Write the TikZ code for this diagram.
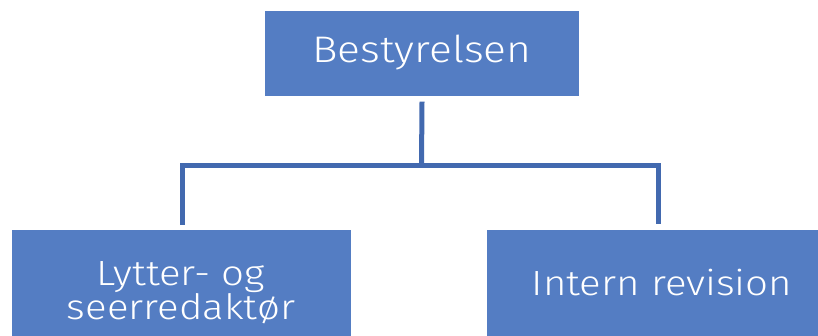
\documentclass[tikz,border=0pt]{standalone}
\usepackage{fontspec}
\setmainfont[FakeStretch=1.15]{Fira Sans Light}
\definecolor{boxblue}{RGB}{84,125,195}
\definecolor{lineblue}{RGB}{66,105,175}
\begin{document}
\begin{tikzpicture}[x=1pt,y=-1pt,
  box/.style={fill=boxblue, inner sep=0pt, text=white, align=center},
  conn/.style={draw=lineblue, line width=5pt}]
\useasboundingbox (0,0) rectangle (818,335);
\begin{scope}
\clip (0,0) rectangle (818,335);
\node[box, minimum width=314pt, minimum height=85pt, font=\fontsize{37}{40}\selectfont] (top) at (422,53) {Bestyrelsen};
\node[box, minimum width=339pt, minimum height=126pt, font=\fontsize{35}{33}\selectfont] (left) at (181,293) {Lytter- og\\seerredaktør};
\node[box, minimum width=350pt, minimum height=106pt, font=\fontsize{35}{40}\selectfont] (right) at (662,283) {Intern revision};
\end{scope}
\coordinate (j) at (421.5,165);
\draw[conn] ([yshift=-6pt]top.south) -- (j);
\draw[conn] ([xshift=1.5pt,yshift=5pt]left.north) |- (j) -| ([xshift=-4pt,yshift=6pt]right.north);
\end{tikzpicture}
\end{document}
